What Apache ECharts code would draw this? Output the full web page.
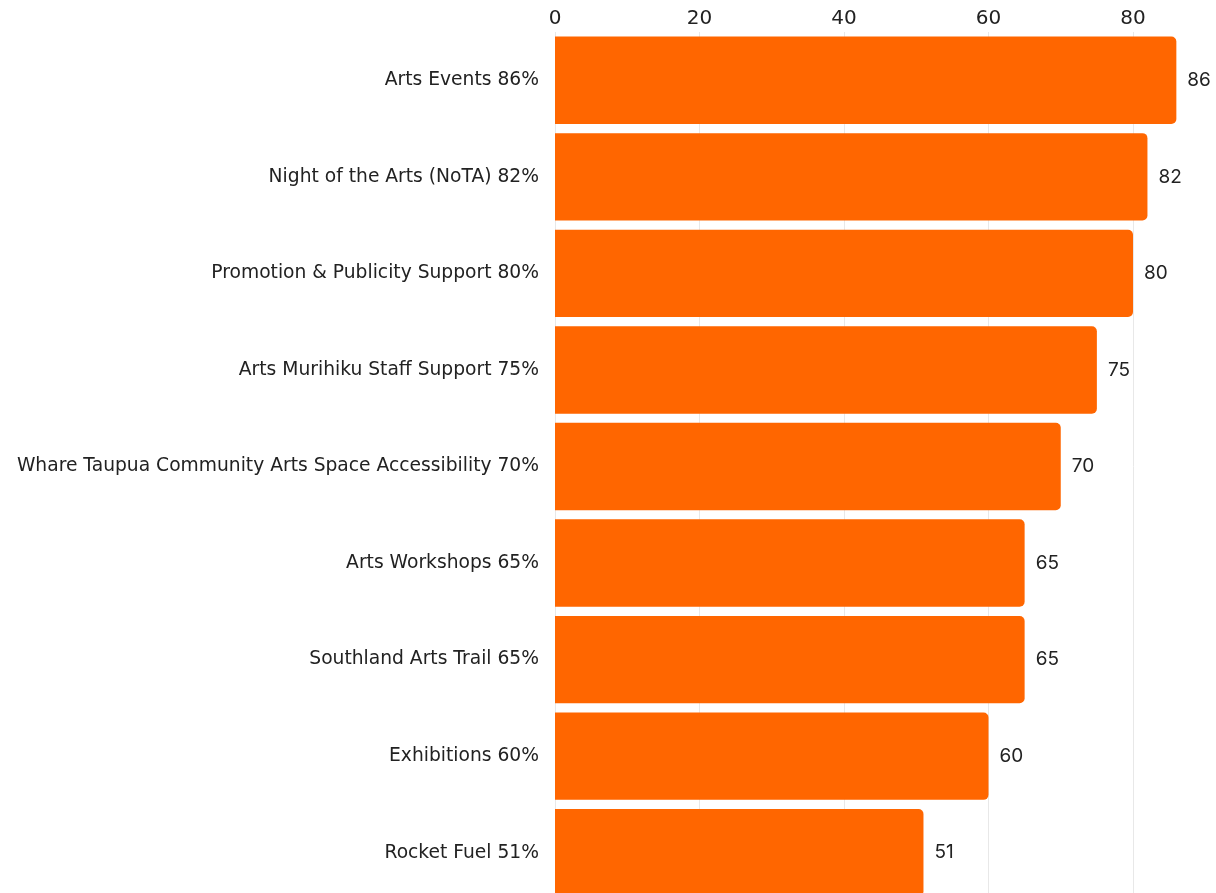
<!DOCTYPE html>
<html>
<head>
<meta charset="utf-8">
<script src="https://cdn.jsdelivr.net/npm/echarts@6/dist/echarts.min.js"></script>
<style>
html,body{margin:0;padding:0;background:#fff;overflow:hidden;width:1216px;height:893px;}
#c{width:1216px;height:901px;}
</style>
</head>
<body>
<div id="c"></div>
<script>
const categories = [
  "Arts Events 86%",
  "Night of the Arts (NoTA) 82%",
  "Promotion & Publicity Support 80%",
  "Arts Murihiku Staff Support 75%",
  "Whare Taupua Community Arts Space Accessibility 70%",
  "Arts Workshops 65%",
  "Southland Arts Trail 65%",
  "Exhibitions 60%",
  "Rocket Fuel 51%"
];
const values = [86, 82, 80, 75, 70, 65, 65, 60, 51];
const tickMax = 90;
const tickStep = 20;

const chart = echarts.init(document.getElementById('c'), null, {renderer: 'canvas'});
chart.setOption({
  animation: false,
  backgroundColor: '#ffffff',
  grid: {left: 555, top: 32, right: 10.75, bottom: 0, containLabel: false},
  xAxis: {
    type: 'value',
    position: 'top',
    min: 0, max: tickMax, interval: tickStep,
    axisLine: {show: false},
    axisTick: {show: false},
    axisLabel: {show: true, showMaxLabel: false, color: '#222', fontSize: 20, fontFamily: 'DejaVu Sans', margin: 3},
    splitLine: {show: true, showMaxLine: false, lineStyle: {color: '#e8e8e8', width: 1}}
  },
  yAxis: {
    type: 'category',
    data: categories,
    inverse: true,
    axisLine: {show: false},
    axisTick: {show: false},
    axisLabel: {color: '#222', fontSize: 18.7, fontFamily: 'DejaVu Sans', margin: 16}
  },
  series: [{
    type: 'bar',
    data: values,
    barCategoryGap: '9.5%',
    itemStyle: {color: '#ff6600', borderRadius: [0, 5, 5, 0]},
    label: {show: true, position: 'right', distance: 11, color: '#222', fontSize: 19, fontFamily: 'Inter'}
  }]
});
</script>
</body>
</html>
